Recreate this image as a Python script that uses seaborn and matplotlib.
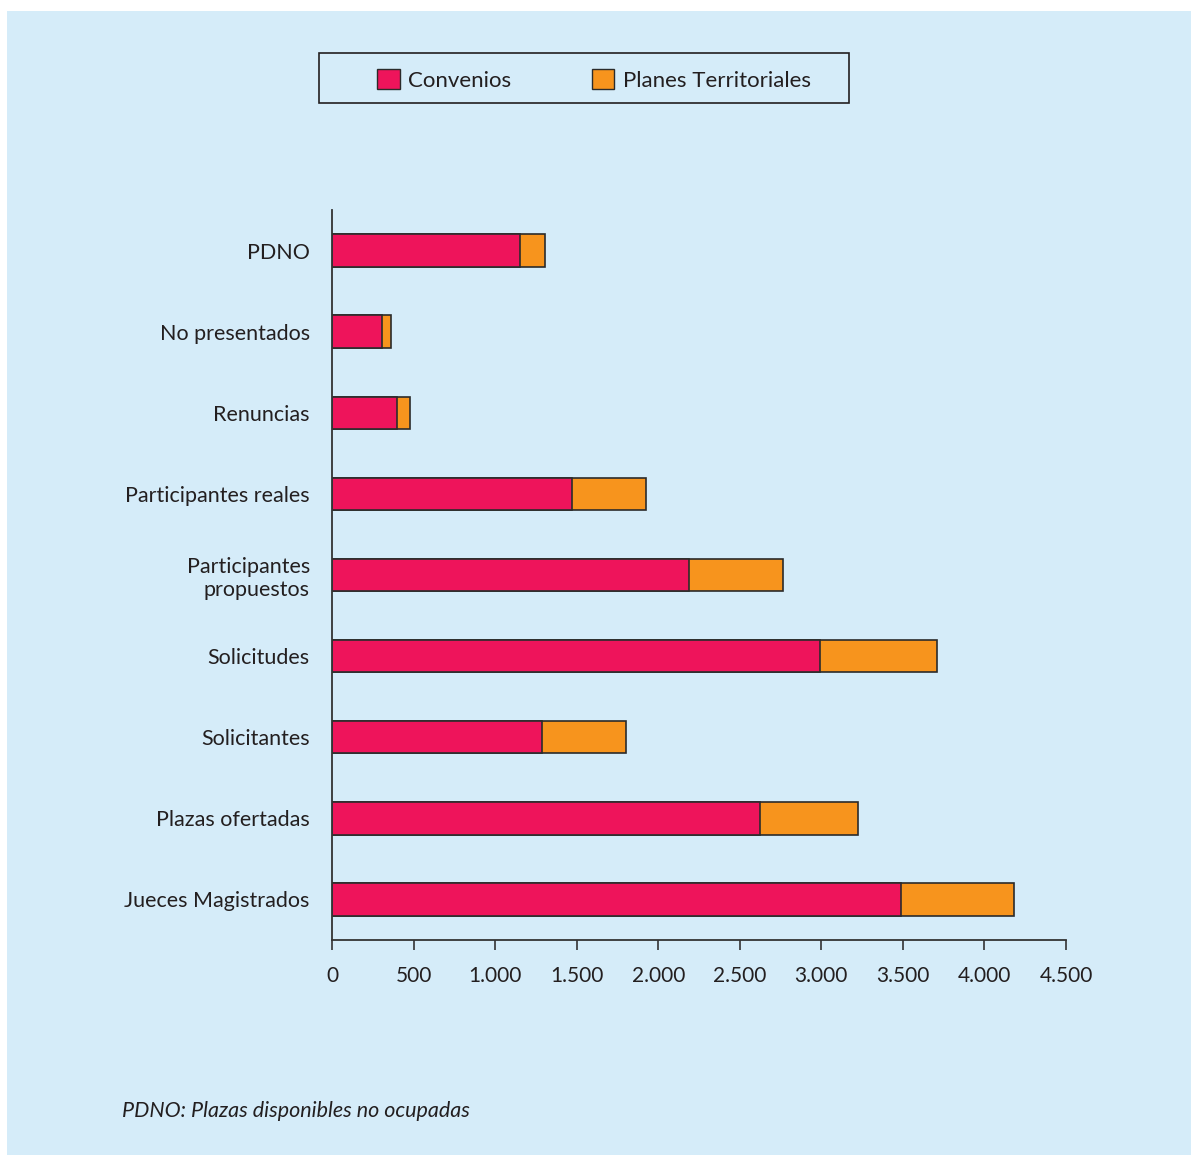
import matplotlib
matplotlib.use("Agg")
import matplotlib.pyplot as plt
from matplotlib.patches import Rectangle, Patch
from matplotlib.ticker import FuncFormatter
import seaborn as sns
import pandas as pd

# datos
categorias = ["PDNO", "No presentados", "Renuncias", "Participantes reales",
              "Participantes\npropuestos", "Solicitudes", "Solicitantes",
              "Plazas ofertadas", "Jueces Magistrados"]
convenios = [1153, 308, 400, 1471, 2189, 2992, 1288, 2624, 3489]
planes = [153, 56, 76, 454, 576, 717, 514, 601, 692]
xticks = [0, 500, 1000, 1500, 2000, 2500, 3000, 3500, 4000, 4500]

df = pd.DataFrame({"cat": categorias, "conv": convenios, "planes": planes})
df["total"] = df["conv"] + df["planes"]

ROSA = "#EE145B"
NARANJA = "#F7941D"
FONDO = "#D5ECF9"
BORDE = "#2b2b2b"

sns.set_style("white")
plt.rcParams["font.family"] = ["Lato", "DejaVu Sans"]

fig = plt.figure(figsize=(11.91, 11.55), dpi=100, facecolor="white")
fig.patches.append(Rectangle((7 / 1191, 0), 1 - 7 / 1191, 1 - 11 / 1155,
                             transform=fig.transFigure, facecolor=FONDO,
                             edgecolor="none", zorder=-10))
ax = fig.add_axes([332 / 1191, 215 / 1155, 734 / 1191, 730 / 1155])
ax.set_facecolor("none")

sns.barplot(data=df, x="total", y="cat", color=NARANJA, saturation=1,
            width=0.4, edgecolor=BORDE, linewidth=1.2, ax=ax)
sns.barplot(data=df, x="conv", y="cat", color=ROSA, saturation=1,
            width=0.4, edgecolor=BORDE, linewidth=1.2, ax=ax)

ax.set_xlim(0, 4500)
ax.set_ylim(8.5, -0.5)
ax.set_xticks(xticks)
ax.xaxis.set_major_formatter(FuncFormatter(lambda v, p: f"{int(v):,}".replace(",", ".")))
ax.set_xlabel("")
ax.set_ylabel("")
sns.despine(ax=ax)
for s in ["left", "bottom"]:
    ax.spines[s].set_color("#333333")
    ax.spines[s].set_linewidth(1.3)
ax.tick_params(axis="x", bottom=True, direction="out", length=7, width=1.2,
               color="#333333", labelsize=15, labelcolor="#231f20", pad=12)
ax.tick_params(axis="y", left=False, length=0, labelsize=15.5, labelcolor="#231f20", pad=16)
for t in ax.get_yticklabels():
    t.set_horizontalalignment("right")
    t.set_linespacing(1.2)

# leyenda con caja dibujada aparte
fig.patches.append(Rectangle((319 / 1191, 1 - 103 / 1155), 530 / 1191, 50 / 1155,
                             transform=fig.transFigure, facecolor="none",
                             edgecolor="#231f20", linewidth=1.2))
handles = [Patch(facecolor=ROSA, edgecolor=BORDE, label="Convenios"),
           Patch(facecolor=NARANJA, edgecolor=BORDE, label="Planes Territoriales")]
fig.legend(handles=handles, loc="center", bbox_to_anchor=(594 / 1191, 1 - 80 / 1155),
           ncol=2, frameon=False, fontsize=16, handlelength=1.0, handleheight=1.0,
           handletextpad=0.4, columnspacing=3.6, labelcolor="#231f20")

fig.text(122 / 1191, 1 - 1111 / 1155, "PDNO: Plazas disponibles no ocupadas",
         fontsize=15.5, style="italic", color="#231f20", va="center", ha="left")

fig.savefig("out.png", dpi=100, facecolor="white")
